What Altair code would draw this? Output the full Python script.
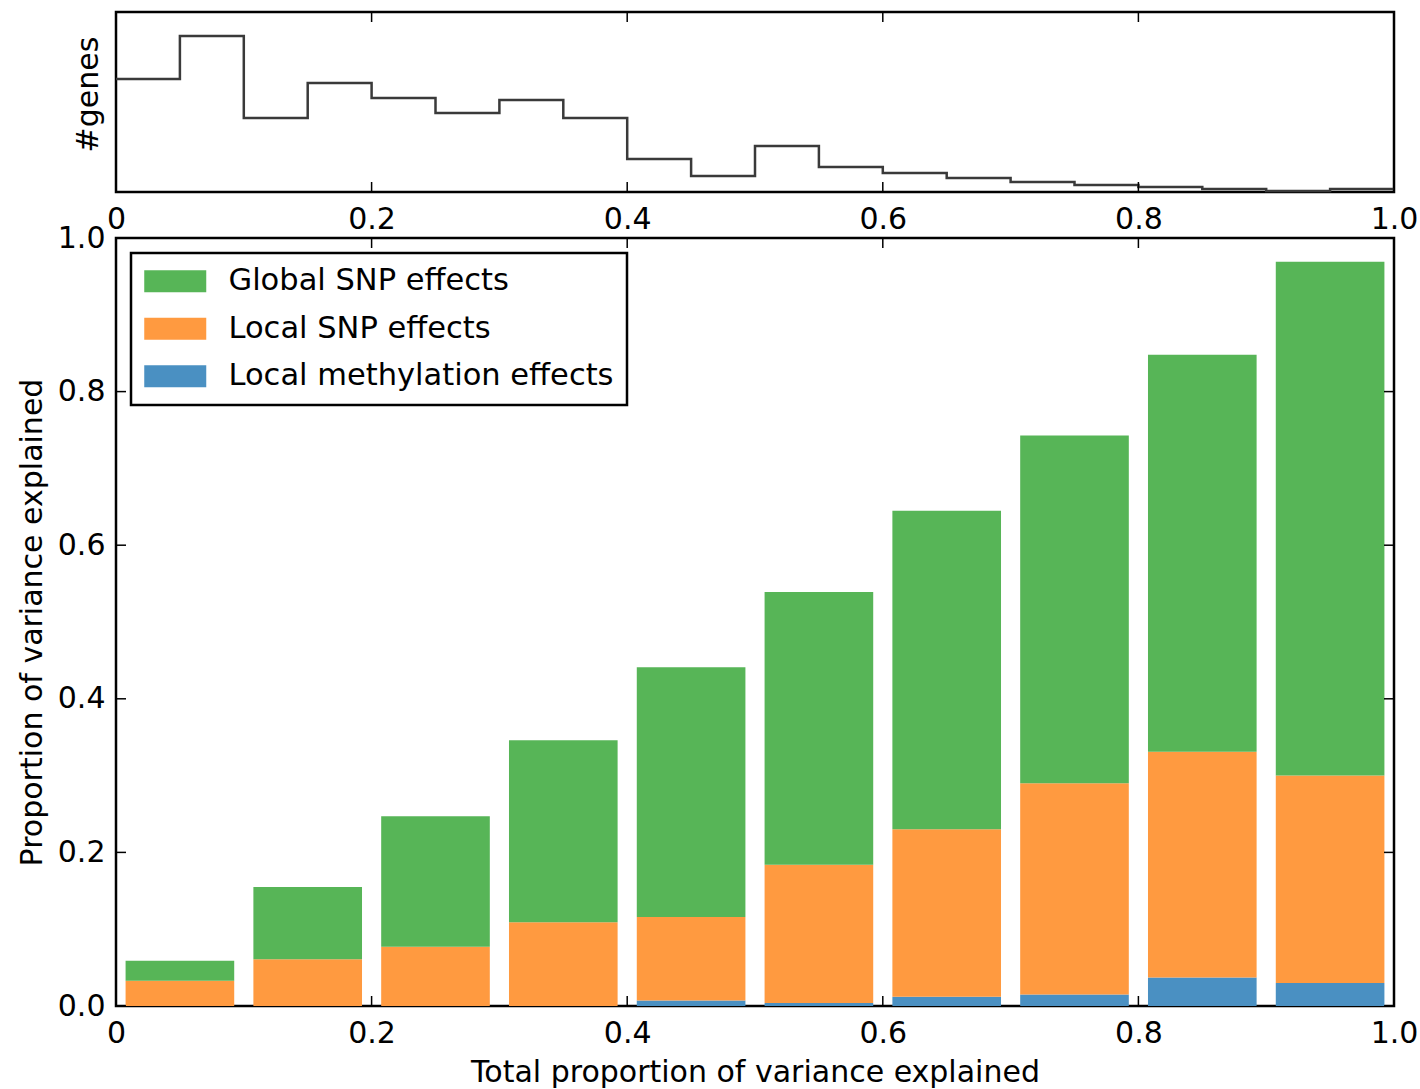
import altair as alt
import pandas as pd

# ---------------- data ----------------
# top histogram: left edges of bins and gene counts per bin
hist_bin_start = [0.00, 0.05, 0.10, 0.15, 0.20, 0.25, 0.30, 0.35, 0.40, 0.45,
                  0.50, 0.55, 0.60, 0.65, 0.70, 0.75, 0.80, 0.85, 0.90, 0.95]
hist_counts = [113, 156, 74, 109, 94, 79, 92, 74, 33, 16,
               46, 25, 19, 14, 10, 7, 5, 3, 1, 3]

# bottom stacked bars
bar_centers = [0.05, 0.15, 0.25, 0.35, 0.45, 0.55, 0.65, 0.75, 0.85, 0.95]
methylation = [0.000, 0.000, 0.000, 0.000, 0.007, 0.004, 0.012, 0.015, 0.037, 0.030]
local_snp = [0.033, 0.061, 0.077, 0.109, 0.109, 0.180, 0.218, 0.275, 0.294, 0.270]
global_snp = [0.026, 0.094, 0.170, 0.237, 0.325, 0.355, 0.415, 0.453, 0.517, 0.669]

series_names = ["Global SNP effects", "Local SNP effects", "Local methylation effects"]
series_colors = ["#57b557", "#ff9a40", "#4a90c2"]

x_ticks = [0, 0.2, 0.4, 0.6, 0.8, 1.0]
y_ticks = [0, 0.2, 0.4, 0.6, 0.8, 1.0]

# ---------------- tables ----------------
hist_df = pd.DataFrame({
    "edge": hist_bin_start + [1.0],
    "count": hist_counts + [hist_counts[-1]],
})

BAR_W = 0.085
rows = []
for c, m, l, g in zip(bar_centers, methylation, local_snp, global_snp):
    parts = [("Local methylation effects", m), ("Local SNP effects", l), ("Global SNP effects", g)]
    base = 0.0
    for name, v in parts:
        rows.append({"lo": c - BAR_W / 2, "hi": c + BAR_W / 2,
                     "y0": base, "y1": base + v, "series": name})
        base += v
bars_df = pd.DataFrame(rows)

xt_df = pd.DataFrame({"t": x_ticks})
yt_df = pd.DataFrame({"t": y_ticks})

W = 1278
H_TOP = 180
H_BOT = 768
GAP = 46
TICK = 10

FONT = "DejaVu Sans"
x_scale = alt.Scale(domain=[0, 1], nice=False, zero=False)
y_scale = alt.Scale(domain=[0, 1], nice=False, zero=False)
label_expr = "datum.value == 0 ? '0' : format(datum.value, '.1f')"

X_TITLE = "Total proportion of variance explained"
Y_TITLE = "Proportion of variance explained"

x_axis_top = alt.Axis(values=x_ticks, labelExpr=label_expr, labelPadding=12,
                      labelFlush=False, ticks=False, domain=False, grid=False)
x_axis_bot = alt.Axis(values=x_ticks, labelExpr=label_expr, labelPadding=12,
                      labelFlush=False, ticks=False, domain=False, grid=False,
                      titlePadding=9)
y_axis_bot = alt.Axis(values=y_ticks, format=".1f", labelPadding=11,
                      labelFlush=False, ticks=False, domain=False, grid=False,
                      titlePadding=10)


def x_inside_ticks(h, axis, title):
    enc_x = alt.X("t:Q", scale=x_scale, axis=axis, title=title)
    bottom = alt.Chart(xt_df).mark_rule(color="black", strokeWidth=1.5).encode(
        x=enc_x, y=alt.value(h), y2=alt.value(h - TICK))
    top = alt.Chart(xt_df).mark_rule(color="black", strokeWidth=1.5).encode(
        x=enc_x, y=alt.value(0), y2=alt.value(TICK))
    return [bottom, top]


# ---------------- top panel ----------------
hist = alt.Chart(hist_df).mark_line(
    interpolate="step-after", color="#3a3a3a", strokeWidth=2.5
).encode(
    x=alt.X("edge:Q", scale=x_scale, axis=x_axis_top, title=None),
    y=alt.Y("count:Q", scale=alt.Scale(domain=[0, 180], nice=False),
            axis=alt.Axis(labels=False, ticks=False, domain=False, grid=False,
                          titlePadding=13, titleY=82),
            title="#genes"),
)
top = alt.layer(hist, *x_inside_ticks(H_TOP, x_axis_top, None)).properties(
    width=W, height=H_TOP)

# ---------------- bottom panel ----------------
# legend swatch: 62 x 22 px rectangle (size 484 -> unit = 11 px)
SWATCH = "M-1.364,-1H4.273V1H-1.364Z"
bars = alt.Chart(bars_df).mark_bar(strokeWidth=0).encode(
    x=alt.X("lo:Q", scale=x_scale, axis=x_axis_bot, title=X_TITLE),
    x2="hi:Q",
    y=alt.Y("y0:Q", scale=y_scale, axis=y_axis_bot, title=Y_TITLE),
    y2="y1:Q",
    color=alt.Color(
        "series:N",
        scale=alt.Scale(domain=series_names, range=series_colors),
        title=None,
        legend=alt.Legend(
            orient="none", legendX=15, legendY=H_TOP + GAP + 15,
            direction="vertical",
            symbolType=SWATCH, symbolSize=484,
            symbolStrokeWidth=0, symbolOpacity=1,
            labelFontSize=30.5, labelFont=FONT, labelColor="black",
            labelOffset=54, labelLimit=0, rowPadding=16.5, padding=13,
            strokeColor="black", fillColor="white", cornerRadius=0,
        ),
    ),
)

enc_y = alt.Y("t:Q", scale=y_scale, axis=y_axis_bot, title=Y_TITLE)
left_ticks = alt.Chart(yt_df).mark_rule(color="black", strokeWidth=1.5).encode(
    y=enc_y, x=alt.value(0), x2=alt.value(TICK))
right_ticks = alt.Chart(yt_df).mark_rule(color="black", strokeWidth=1.5).encode(
    y=enc_y, x=alt.value(W), x2=alt.value(W - TICK))

bottom = alt.layer(bars, *x_inside_ticks(H_BOT, x_axis_bot, X_TITLE),
                   left_ticks, right_ticks).properties(width=W, height=H_BOT)

chart = alt.vconcat(top, bottom, spacing=GAP, bounds="flush").properties(
    padding={"left": 16, "top": 10, "right": 0, "bottom": 0},
    background="white",
).configure_view(
    stroke="black", strokeWidth=2.5
).configure_axis(
    labelFont=FONT, titleFont=FONT, labelFontSize=30, titleFontSize=30,
    titleFontWeight="normal", labelColor="black", titleColor="black",
).configure_legend(
    strokeWidth=2.5
)

chart.save("out.html", embed_options={"renderer": "svg", "actions": False})
